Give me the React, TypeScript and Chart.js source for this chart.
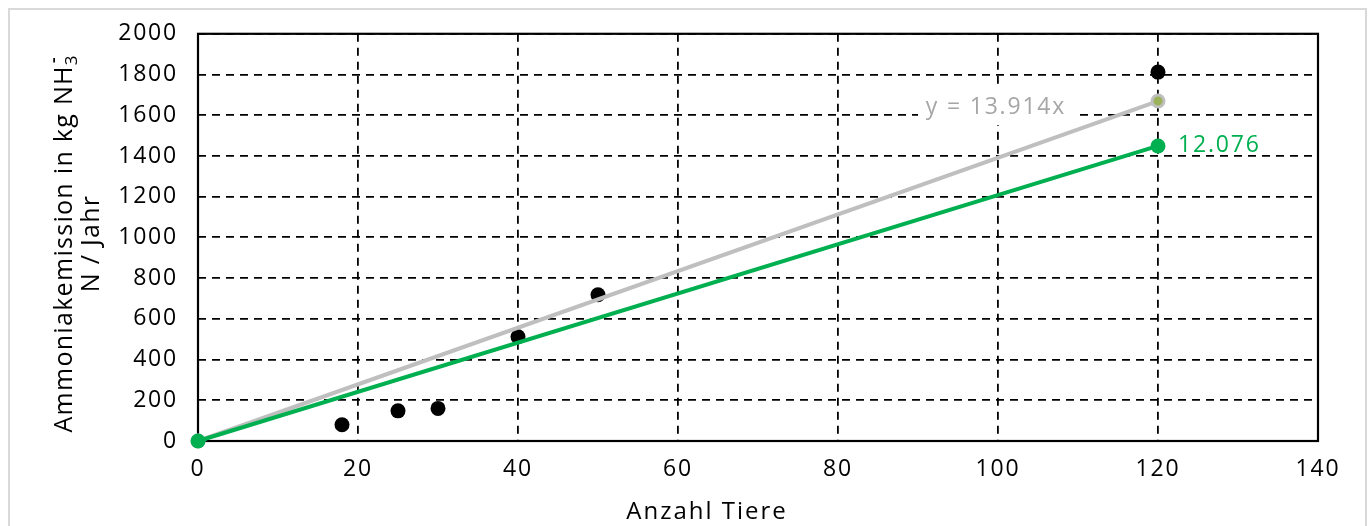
import React, { useEffect, useRef } from "react";
import { Chart, registerables } from "chart.js";

Chart.register(...registerables);

const animalCounts = [18, 25, 30, 40, 50, 120];
const emissions = [80, 148, 160, 512, 718, 1812];
const fitX = [0, 120];
const grayFitY = [0, 1669.68];
const greenFitY = [0, 1449.12];
const grayLabel = "y = 13.914x";
const greenLabel = "12.076";
const xTitle = "Anzahl Tiere";
const yTitleMain = "Ammoniakemission in kg NH";
const yTitleSub = "3";
const yTitleSup = "-";
const yTitleLine2 = "N / Jahr";

const FONT = "'Open Sans', sans-serif";

const decorPlugin = {
  id: "decor",
  beforeDraw(chart: any) {
    chart.ctx.letterSpacing = "1.8px";
  },
  beforeDatasetsDraw(chart: any) {
    const { ctx, chartArea: a } = chart;
    ctx.save();
    ctx.setLineDash([]);
    ctx.strokeStyle = "#000";
    ctx.lineWidth = 2.2;
    ctx.strokeRect(a.left, a.top, a.right - a.left, a.bottom - a.top);
    ctx.restore();
  },
  afterDraw(chart: any) {
    const { ctx, scales } = chart;
    const xs = scales.x;
    const ys = scales.y;
    ctx.save();
    // x title
    ctx.letterSpacing = "2px";
    ctx.fillStyle = "#000";
    ctx.font = `24px ${FONT}`;
    ctx.textAlign = "center";
    ctx.textBaseline = "alphabetic";
    ctx.fillText(xTitle, 707, 519);

    // y title (rotated)
    ctx.letterSpacing = "1.3px";
    const cy = (ys.top + ys.bottom) / 2 + 6;
    ctx.save();
    ctx.translate(72, cy);
    ctx.rotate(-Math.PI / 2);
    ctx.font = `25px ${FONT}`;
    const wMain = ctx.measureText(yTitleMain).width;
    ctx.font = `17px ${FONT}`;
    const wSub = ctx.measureText(yTitleSub).width;
    const wSup = ctx.measureText(yTitleSup).width;
    const total = wMain + Math.max(wSub, wSup);
    const x0 = -total / 2;
    ctx.textAlign = "left";
    ctx.font = `25px ${FONT}`;
    ctx.fillText(yTitleMain, x0, 0);
    ctx.font = `17px ${FONT}`;
    ctx.fillText(yTitleSub, x0 + wMain, 5);
    ctx.font = `600 18px ${FONT}`;
    ctx.fillText(yTitleSup, x0 + wMain + 2, -13);
    ctx.restore();
    ctx.save();
    ctx.translate(99, cy);
    ctx.rotate(-Math.PI / 2);
    ctx.font = `25px ${FONT}`;
    ctx.textAlign = "center";
    ctx.fillText(yTitleLine2, 0, 0);
    ctx.restore();

    // trend labels
    ctx.letterSpacing = "1.8px";
    const px = xs.getPixelForValue(fitX[1]);
    const pyGray = ys.getPixelForValue(grayFitY[1]);
    const pyGreen = ys.getPixelForValue(greenFitY[1]);
    ctx.font = `23px ${FONT}`;
    ctx.textBaseline = "middle";
    const gcx = px - 162;
    const gcy = pyGray + 6;
    ctx.fillStyle = "#fff";
    ctx.fillRect(gcx - 78, gcy - 18, 157, 36);
    ctx.fillStyle = "#a6a6a6";
    ctx.textAlign = "center";
    ctx.fillText(grayLabel, gcx, gcy);
    ctx.fillStyle = "#00b050";
    ctx.textAlign = "left";
    ctx.fillText(greenLabel, px + 20, pyGreen - 1);
    ctx.restore();
  },
};

export default function App() {
  const ref = useRef<HTMLCanvasElement>(null);
  useEffect(() => {
    const scatterData = animalCounts.map((x, i) => ({ x, y: emissions[i] }));
    const grayData = fitX.map((x, i) => ({ x, y: grayFitY[i] }));
    const greenData = fitX.map((x, i) => ({ x, y: greenFitY[i] }));
    const tickFont = { family: FONT, size: 23 };
    const chart = new Chart(ref.current as HTMLCanvasElement, {
      type: "scatter",
      data: {
        datasets: [
          {
            data: greenData,
            showLine: true,
            clip: false,
            borderColor: "#00b050",
            borderWidth: 4,
            backgroundColor: "#00b050",
            pointBackgroundColor: "#00b050",
            pointBorderColor: "#00b050",
            pointRadius: 7.5,
            pointBorderWidth: 0,
            order: 0,
          },
          {
            data: grayData,
            showLine: true,
            clip: false,
            borderColor: "#bfbfbf",
            borderWidth: 4,
            pointBackgroundColor: "#9bb15a",
            pointBorderColor: "#bfbfbf",
            pointRadius: 6,
            pointBorderWidth: 3,
            order: 1,
          },
          {
            data: scatterData,
            showLine: false,
            clip: false,
            backgroundColor: "#000",
            pointBackgroundColor: "#000",
            pointBorderColor: "#000",
            pointRadius: 7.5,
            pointBorderWidth: 0,
            order: 2,
          },
        ],
      },
      options: {
        animation: false,
        responsive: false,
        devicePixelRatio: 1,
        layout: { padding: { left: 0, right: 50, top: 32, bottom: 0 } },
        plugins: {
          legend: { display: false },
          tooltip: { enabled: false },
          title: { display: false },
        },
        scales: {
          x: {
            type: "linear",
            min: 0,
            max: 140,
            ticks: {
              stepSize: 20,
              padding: 15,
              color: "#000",
              font: tickFont,
              callback: (v: any) => String(v),
            },
            grid: { color: "#000", lineWidth: 1.8, drawTicks: false },
            border: { display: false, dash: [8, 6] },
            afterFit: (s: any) => {
              s.height = 85;
            },
          },
          y: {
            type: "linear",
            min: 0,
            max: 2000,
            ticks: {
              stepSize: 200,
              padding: 20,
              color: "#000",
              font: tickFont,
              callback: (v: any) => String(v),
            },
            grid: { color: "#000", lineWidth: 1.8, drawTicks: false },
            border: { display: false, dash: [8, 6] },
            afterFit: (s: any) => {
              s.width = 198;
            },
          },
        },
      },
      plugins: [decorPlugin],
    });
    return () => chart.destroy();
  }, []);

  return (
    <div
      style={{
        position: "fixed",
        left: 0,
        top: 0,
        width: 1368,
        height: 526,
        overflow: "hidden",
        background: "#fff",
      }}
    >
      <canvas ref={ref} width={1368} height={526} style={{ position: "absolute", left: 0, top: 0 }} />
      <div
        style={{
          position: "absolute",
          left: 8,
          top: 8,
          width: 1355,
          height: 600,
          border: "2px solid #d9d9d9",
          pointerEvents: "none",
        }}
      />
    </div>
  );
}
